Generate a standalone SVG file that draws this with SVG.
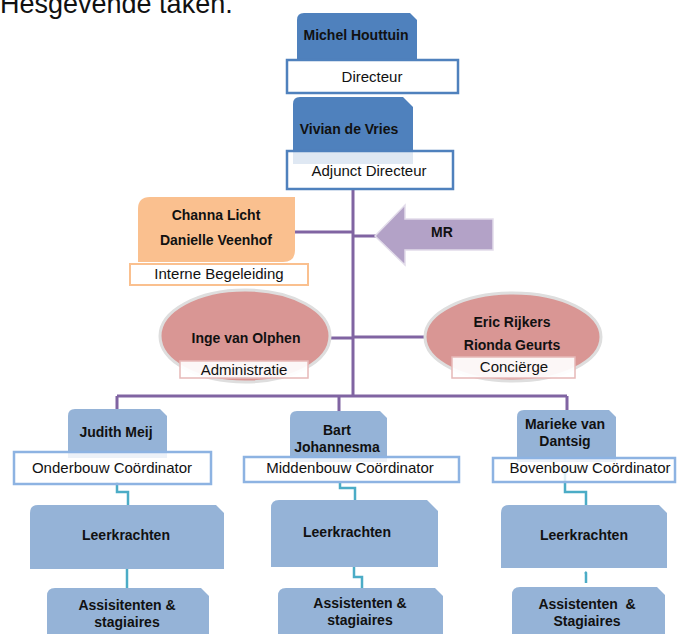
<svg xmlns="http://www.w3.org/2000/svg" width="677" height="634" viewBox="0 0 677 634">
<style>
  text{font-family:"Liberation Sans",Arial,sans-serif;fill:#111;text-anchor:middle}
  .b{font-weight:bold;font-size:14px}
  .r{font-size:15px}
  .dark{fill:#4f81bd}
  .light{fill:#95b3d7}
  .wbd{fill:#fff;fill-opacity:0.82;stroke:#4f81bd;stroke-width:2.5}
  .wbl{fill:#fff;fill-opacity:0.82;stroke:#8db3e2;stroke-width:2.5}
  .pur{fill:none;stroke:#8064a2;stroke-width:3}
  .cy{fill:none;stroke:#4bacc6;stroke-width:2.5}
  .ell{fill:#d99694;stroke:#dedede;stroke-width:3}
  .pk{fill:#fff;fill-opacity:0.92;stroke:#e6b9b8;stroke-width:1.5}
</style>
<rect width="677" height="634" fill="#fff"/>
<text x="0" y="13" style="font-size:27px;text-anchor:start">Hesgevende taken.</text>

<g id="connectors">
  <path class="pur" d="M353,189 V396 M117,396 H567 M117,396 V409 M339,396 V411 M567,396 V410 M295,232 H353 M353,236 H377 M330,338 H353 M353,337 H425"/>
  <path class="cy" d="M117,482 V492 H128 V505"/>
  <path class="cy" d="M340,482 V488 H355 V500"/>
  <path class="cy" d="M565,465 V492 H586 V505"/>
  <path class="cy" d="M127,569 V588"/>
  <path class="cy" d="M354,567 V577 H362 V588"/>
  <path class="cy" d="M585,572 L586,573 V583"/>
</g>

<g id="michel">
  <path class="dark" d="M297,60 V20 Q297,13 304,13 H410 L417,20 V60 Z"/>
  <rect class="wbd" x="287" y="60" width="171" height="33"/>
  <text class="b" x="356" y="40">Michel Houttuin</text>
  <text class="r" x="372" y="82">Directeur</text>
</g>

<g id="vivian">
  <path class="dark" d="M293,164 V104 Q293,97 300,97 H403 L413,107 V164 Z"/>
  <rect class="wbd" x="287" y="151" width="166" height="38"/>
  <text class="b" x="349" y="134">Vivian de Vries</text>
  <text class="r" x="369" y="176">Adjunct Directeur</text>
</g>

<g id="ib">
  <path d="M150,197 H295 V250 Q295,262 283,262 H138 V209 Q138,197 150,197 Z" fill="#fac08f"/>
  <rect x="130" y="264" width="178" height="21" fill="#fff" stroke="#fac08f" stroke-width="2"/>
  <text class="b" x="216" y="220">Channa Licht</text>
  <text class="b" x="216" y="245">Danielle Veenhof</text>
  <text class="r" x="219" y="279">Interne Begeleiding</text>
</g>

<g id="mr">
  <polygon points="375,236 405,205 405,219 493,219 493,250 405,250 405,265" fill="#b3a2c7" stroke="#e2dcea" stroke-width="1.5"/>
  <text class="b" x="442" y="237">MR</text>
</g>

<g id="admin">
  <ellipse class="ell" cx="245" cy="336" rx="85" ry="46"/>
  <rect class="pk" x="180" y="361" width="128" height="17"/>
  <text class="b" x="246" y="343">Inge van Olphen</text>
  <text class="r" x="244" y="375">Administratie</text>
</g>

<g id="concierge">
  <ellipse class="ell" cx="513" cy="337" rx="88" ry="44"/>
  <rect class="pk" x="452" y="357" width="123" height="21"/>
  <text class="b" x="512" y="327">Eric Rijkers</text>
  <text class="b" x="512" y="350">Rionda Geurts</text>
  <text class="r" x="514" y="372">Conciërge</text>
</g>

<g id="onderbouw">
  <path class="light" d="M68,458 V416 Q68,409 75,409 H160 L167,416 V458 Z"/>
  <rect class="wbl" x="14" y="452" width="197" height="32"/>
  <text class="b" x="116" y="437">Judith Meij</text>
  <text class="r" x="112" y="473">Onderbouw Coördinator</text>
</g>

<g id="middenbouw">
  <path class="light" d="M290,462 V418 Q290,411 297,411 H380 L387,418 V462 Z"/>
  <rect class="wbl" x="244" y="457" width="215" height="25"/>
  <text class="b" x="337" y="435">Bart</text>
  <text class="b" x="337" y="452">Johannesma</text>
  <text class="r" x="350" y="473">Middenbouw Coördinator</text>
</g>

<g id="bovenbouw">
  <path class="light" d="M517,462 V417 Q517,410 524,410 H609 L616,417 V462 Z"/>
  <rect class="wbl" x="493" y="458" width="182" height="24"/>
  <text class="b" x="565" y="429">Marieke van</text>
  <text class="b" x="565" y="446">Dantsig</text>
  <text class="r" x="590" y="473">Bovenbouw Coördinator</text>
</g>

<g id="lk1">
  <path class="light" d="M30,569 V513 Q30,505 38,505 H216 L224,513 V569 Z"/>
  <text class="b" x="126" y="540">Leerkrachten</text>
</g>
<g id="lk2">
  <path class="light" d="M271,567 V508 Q271,500 279,500 H427 L438,511 V567 Z"/>
  <text class="b" x="347" y="537">Leerkrachten</text>
</g>
<g id="lk3">
  <path class="light" d="M501,568 V513 Q501,505 509,505 H659 L667,513 V568 Z"/>
  <text class="b" x="584" y="540">Leerkrachten</text>
</g>

<g id="as1">
  <path class="light" d="M47,640 V596 Q47,588 55,588 H201 L209,596 V640 Z"/>
  <text class="b" x="127" y="610">Assisitenten &amp;</text>
  <text class="b" x="127" y="627">stagiaires</text>
</g>
<g id="as2">
  <path class="light" d="M278,640 V596 Q278,588 286,588 H435 L443,596 V640 Z"/>
  <text class="b" x="360" y="608">Assistenten &amp;</text>
  <text class="b" x="360" y="625">stagiaires</text>
</g>
<g id="as3">
  <path class="light" d="M512,640 V595 Q512,587 520,587 H657 L665,595 V640 Z"/>
  <text class="b" x="587" y="609" xml:space="preserve">Assistenten  &amp;</text>
  <text class="b" x="587" y="626">Stagiaires</text>
</g>
</svg>
